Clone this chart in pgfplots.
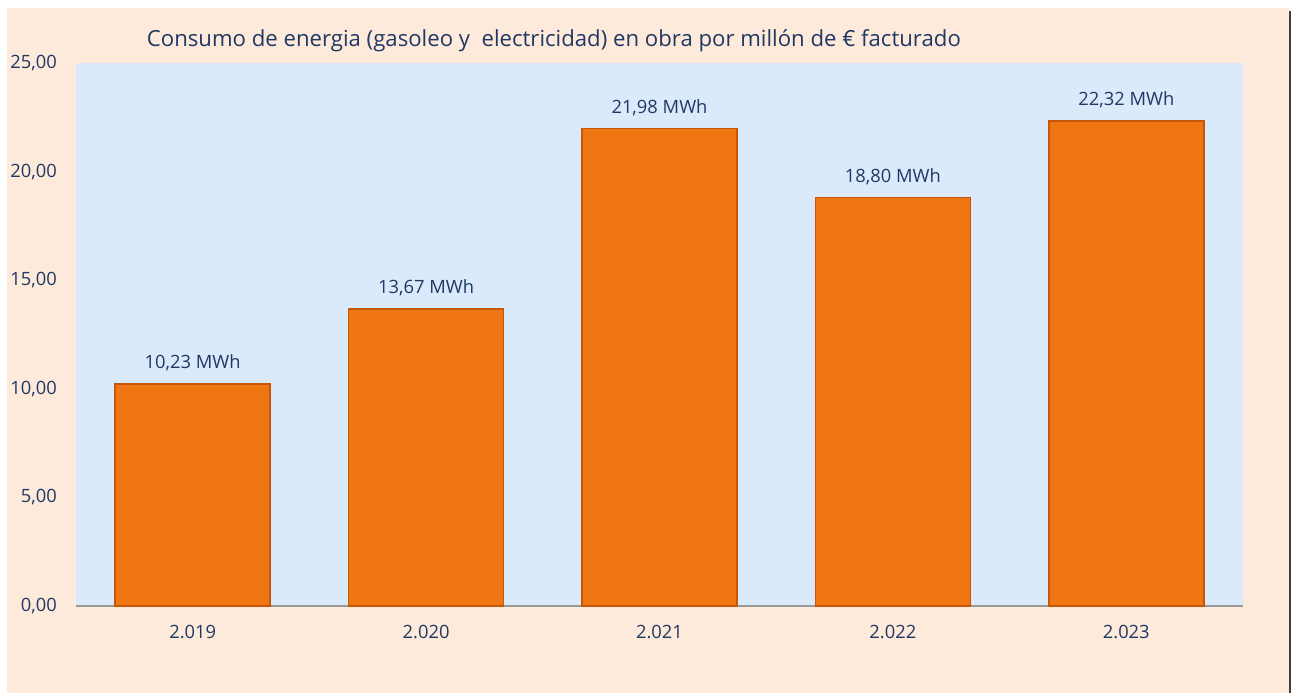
\documentclass[border=0pt]{standalone}
\usepackage{fontspec}
\setmainfont{Open Sans}
\usepackage{pgfplots}
\pgfplotsset{compat=1.18}
\definecolor{peach}{RGB}{253,234,218}
\definecolor{plotblue}{RGB}{218,234,250}
\definecolor{barorange}{RGB}{240,117,19}
\definecolor{baredge}{RGB}{196,88,8}
\definecolor{txt}{RGB}{32,56,100}
\begin{document}
\begin{tikzpicture}
% outer frame (1px = 0.6pt)
\fill[white] (-45.6pt,-52.2pt) rectangle (729pt,363.6pt);
\fill[peach] (-41.4pt,-52.2pt) rectangle (727.8pt,358.8pt);
\draw[black!75, line width=1.2pt] (728.4pt,357pt) -- (728.4pt,-52.2pt);
\begin{axis}[
    at={(0,0)}, anchor=south west,
    scale only axis,
    width=700.2pt, height=325.8pt,
    ybar, bar width=93pt,
    xmin=-0.5, xmax=4.5,
    ymin=0, ymax=25,
    xtick=data,
    xticklabels={2.019,2.020,2.021,2.022,2.023},
    ytick={0,5,...,25},
    major tick length=0pt,
    axis x line*=bottom, axis y line*=left,
    x axis line style={draw=black!40, line width=0.8pt, -},
    y axis line style={draw=none},
    axis background/.style={fill=plotblue},
    tick label style={font=\fontsize{11}{13}\selectfont, text=txt},
    yticklabel style={xshift=-8pt,
        /pgf/number format/.cd, fixed, fixed zerofill, precision=2, use comma, assume math mode=true},
    xticklabel style={yshift=-8pt},
    title={Consumo de energia (gasoleo y \ electricidad) en obra por millón de € facturado},
    title style={at={(0,1)}, anchor=west, xshift=39pt, yshift=7.5pt,
        font=\fontsize{13.3}{15}\selectfont, text=txt},
    nodes near coords={\pgfmathprintnumber[fixed,fixed zerofill,precision=2,use comma,assume math mode=true]{\pgfplotspointmeta}~MWh},
    nodes near coords style={font=\fontsize{11}{13}\selectfont, text=txt, yshift=4pt},
    clip=false,
]
\addplot[fill=barorange, draw=baredge, line width=0.9pt] coordinates {
    (0,10.23) (1,13.67) (2,21.98) (3,18.80) (4,22.32)
};
\end{axis}
\end{tikzpicture}
\end{document}
